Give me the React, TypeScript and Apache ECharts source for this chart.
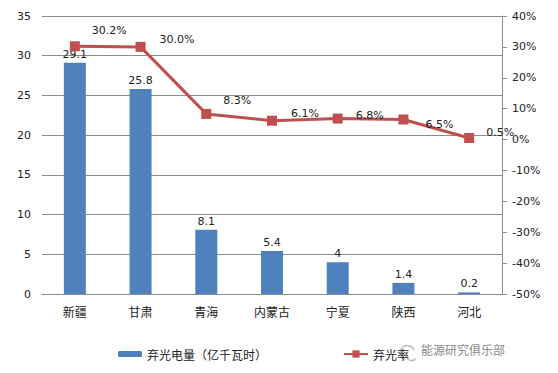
import React, { useEffect, useRef } from "react";
import * as echarts from "echarts";

const categories = ["新疆", "甘肃", "青海", "内蒙古", "宁夏", "陕西", "河北"];
const curtailedPower = [29.1, 25.8, 8.1, 5.4, 4, 1.4, 0.2];
const curtailmentRate = [30.2, 30.0, 8.3, 6.1, 6.8, 6.5, 0.5];
const rateLabels = ["30.2%", "30.0%", "8.3%", "6.1%", "6.8%", "6.5%", "0.5%"];
const rateLabelOffsets: [number, number][] = [
  [4, -16],
  [6, -7],
  [4, -13],
  [6, -7],
  [5, -3],
  [9, 5],
  [4, -6],
];

const BAR_NAME = "弃光电量（亿千瓦时）";
const LINE_NAME = "弃光率";
const FONT = "'DejaVu Sans', 'Noto Sans CJK SC', sans-serif";
const CJK = "'Noto Sans CJK SC', sans-serif";

export default function App() {
  const ref = useRef<HTMLDivElement>(null);
  useEffect(() => {
    if (!ref.current) return;
    const chart = echarts.init(ref.current, undefined, { renderer: "svg" });
    chart.setOption({
      animation: false,
      backgroundColor: "#ffffff",
      grid: { left: 42, right: 56, top: 16, bottom: 79, containLabel: false },
      legend: [
        {
          data: [BAR_NAME],
          left: 113,
          top: 343,
          itemWidth: 24,
          itemHeight: 6,
          itemGap: 4,
          textStyle: { fontFamily: CJK, fontSize: 12, color: "#222" },
        },
        {
          data: [LINE_NAME],
          left: 338,
          top: 343,
          itemWidth: 24,
          itemHeight: 9,
          textStyle: { fontFamily: CJK, fontSize: 12, color: "#222" },
        },
      ],
      xAxis: {
        type: "category",
        data: categories,
        axisTick: { show: false },
        axisLine: { lineStyle: { color: "#8c8c8c", width: 1 } },
        axisLabel: { fontFamily: CJK, fontSize: 12, color: "#222", margin: 11 },
      },
      yAxis: [
        {
          type: "value",
          min: 0,
          max: 35,
          interval: 5,
          axisLine: { show: false },
          axisTick: { show: false },
          axisLabel: { fontFamily: FONT, fontSize: 11, color: "#222", margin: 11 },
          splitLine: { lineStyle: { color: "#8c8c8c", width: 1 } },
        },
        {
          type: "value",
          min: -50,
          max: 40,
          interval: 10,
          position: "right",
          axisLine: { show: true, lineStyle: { color: "#8c8c8c", width: 1 } },
          axisTick: { show: true, inside: false, length: 5, lineStyle: { color: "#8c8c8c" } },
          axisLabel: { fontFamily: FONT, fontSize: 11, color: "#222", margin: 10, formatter: "{value}%" },
          splitLine: { show: false },
        },
      ],
      series: [
        {
          name: BAR_NAME,
          type: "bar",
          data: curtailedPower,
          barWidth: 22,
          itemStyle: { color: "#4f81bd" },
          label: {
            show: true,
            position: "top",
            distance: 3,
            fontFamily: FONT,
            fontSize: 11,
            color: "#222",
          },
          z: 2,
        },
        {
          name: LINE_NAME,
          type: "line",
          yAxisIndex: 1,
          data: curtailmentRate.map((v, i) => ({
            value: v,
            label: { offset: rateLabelOffsets[i] },
          })),
          symbol: "rect",
          symbolSize: 10,
          lineStyle: { color: "#c0504d", width: 3 },
          itemStyle: { color: "#c0504d" },
          label: {
            show: true,
            position: "right",
            distance: 8,
            fontFamily: FONT,
            fontSize: 11,
            color: "#222",
            formatter: (p: any) => rateLabels[p.dataIndex],
          },
          z: 3,
        },
      ],
      graphic: [
        {
          type: "arc",
          left: 398,
          top: 343,
          shape: { cx: 0, cy: 0, r: 7, startAngle: Math.PI * 0.6, endAngle: Math.PI * 1.9 },
          style: { stroke: "#bbbbbb", lineWidth: 1.5, fill: "none" },
        },
        {
          type: "arc",
          left: 404,
          top: 349,
          shape: { cx: 0, cy: 0, r: 5, startAngle: Math.PI * 0.2, endAngle: Math.PI * 1.3 },
          style: { stroke: "#bbbbbb", lineWidth: 1.5, fill: "none" },
        },
        {
          type: "text",
          left: 421,
          top: 343,
          style: {
            text: "能源研究俱乐部",
            fontFamily: CJK,
            fontSize: 12,
            fill: "#8a8a8a",
          },
        },
      ],
    });
    return () => chart.dispose();
  }, []);
  return <div ref={ref} style={{ width: 558, height: 373, margin: -8 }} />;
}
